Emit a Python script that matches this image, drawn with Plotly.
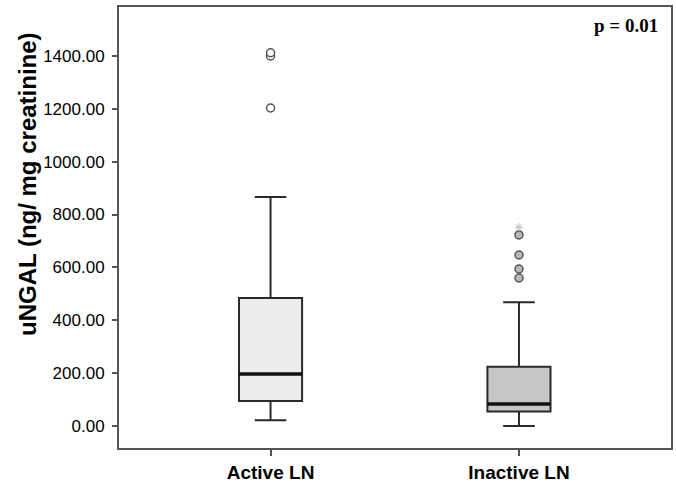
import plotly.graph_objects as go

categories = ["Active LN", "Inactive LN"]
q1 = [95, 55]
median = [197, 83]
q3 = [484, 224]
lower_fence = [22, 0]
upper_fence = [866, 468]
box_fills = ["#ececec", "#c6c6c6"]

active_outliers = [1203, 1400, 1412]
inactive_outliers = [560, 594, 647, 723]
inactive_extremes = [752]

y_tick_vals = [0, 200, 400, 600, 800, 1000, 1200, 1400]
y_tick_text = ["%.2f" % v for v in y_tick_vals]

BOX_W = 0.254

fig = go.Figure()
for i, cat in enumerate(categories):
    fig.add_trace(go.Box(
        x=[i], q1=[q1[i]], median=[median[i]], q3=[q3[i]],
        lowerfence=[lower_fence[i]], upperfence=[upper_fence[i]],
        width=BOX_W, whiskerwidth=0.5,
        fillcolor=box_fills[i],
        line=dict(color="#2a2a2a", width=2),
        boxpoints=False, showlegend=False, hoverinfo="skip",
    ))
    fig.add_trace(go.Scatter(
        x=[i - BOX_W / 2, i + BOX_W / 2], y=[median[i], median[i]],
        mode="lines", line=dict(color="#111111", width=3.5),
        showlegend=False, hoverinfo="skip",
    ))

fig.add_trace(go.Scatter(
    x=[0] * len(active_outliers), y=active_outliers, mode="markers",
    marker=dict(symbol="circle", size=8, color="white",
                line=dict(color="#555555", width=1.5)),
    showlegend=False,
))
fig.add_trace(go.Scatter(
    x=[1] * len(inactive_outliers), y=inactive_outliers, mode="markers",
    marker=dict(symbol="circle", size=8, color="#b8b8b8",
                line=dict(color="#555555", width=1.5)),
    showlegend=False,
))
fig.add_trace(go.Scatter(
    x=[1] * len(inactive_extremes), y=inactive_extremes, mode="markers",
    marker=dict(symbol="asterisk-open", size=7, color="#bbbbbb",
                line=dict(color="#bbbbbb", width=1)),
    showlegend=False,
))

fig.update_layout(
    width=676, height=483,
    margin=dict(l=119, r=5, t=7, b=35),
    paper_bgcolor="white", plot_bgcolor="white",
    font=dict(family="Liberation Sans, Arial, sans-serif", color="black"),
    xaxis=dict(
        range=[-0.61, 1.612], tickvals=[0, 1],
        ticktext=["<b>%s</b>" % c for c in categories],
        tickfont=dict(size=19, family="Liberation Sans, Arial", color="black"),
        ticks="outside", ticklen=6, tickcolor="#555555", tickwidth=1.5,
        showline=True, linecolor="#555555", linewidth=2, mirror=True,
        showgrid=False, zeroline=False, automargin=False,
    ),
    yaxis=dict(
        range=[-83, 1585], tickvals=y_tick_vals, ticktext=y_tick_text,
        tickfont=dict(size=17, family="Liberation Sans, Arial", color="black"),
        ticks="outside", ticklen=5, tickcolor="#555555", tickwidth=1.5,
        ticklabelstandoff=4,
        showline=True, linecolor="#555555", linewidth=2, mirror=True,
        showgrid=False, zeroline=False, automargin=False,
    ),
    annotations=[
        dict(text="<b>uNGAL (ng/ mg creatinine)</b>", textangle=-90,
             xref="paper", yref="paper", x=(27 - 119) / 552, y=(483 - 35 - 184) / 441,
             showarrow=False, xanchor="center", yanchor="middle",
             font=dict(size=24, family="Liberation Sans, Arial", color="black")),
        dict(text="<b>p = 0.01</b>", xref="paper", yref="paper",
             x=(660 - 119) / 552, y=(448 - 26) / 441,
             xanchor="right", yanchor="middle", showarrow=False,
             font=dict(size=19, family="Liberation Serif, Times New Roman, serif", color="black")),
    ],
)

fig.write_html("out.html", config={"displayModeBar": False},
               post_script="document.body.style.margin='0';document.body.style.padding='0';")
